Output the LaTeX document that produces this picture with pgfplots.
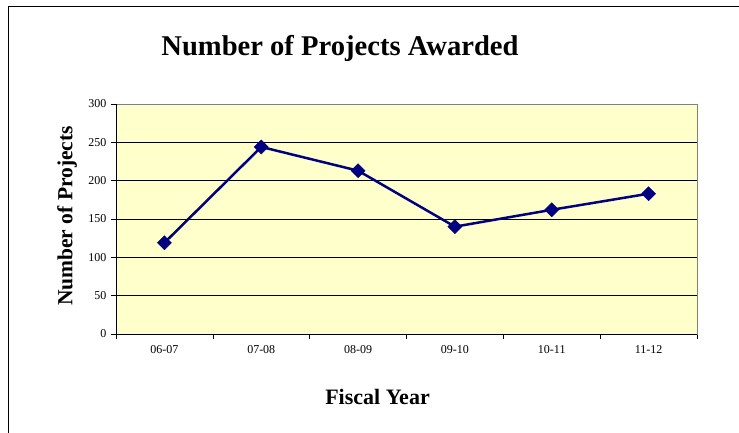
\documentclass[border=0pt]{standalone}
\usepackage{fontspec}
\setmainfont{Liberation Serif}
\usepackage{pgfplots}
\pgfplotsset{compat=1.18}
\definecolor{plotbg}{RGB}{255,255,204}
\definecolor{navyline}{RGB}{0,0,128}
\definecolor{frameGray}{RGB}{128,128,128}

\begin{document}
\begin{tikzpicture}[x=1pt,y=1pt]
\path[use as bounding box] (0pt,0pt) rectangle (739pt,-433pt);
\draw[line width=0.9pt] (8pt,-433pt) -- (8pt,-6pt) -- (739pt,-6pt);
\begin{axis}[
    at={(116pt,-334pt)}, anchor=south west,
    width=581pt, height=230pt, scale only axis,
    xmin=-0.5, xmax=5.5, ymin=0, ymax=300,
    axis background/.style={fill=plotbg},
    axis line style={draw=frameGray, line width=1pt},
    xtick={-0.5,0.5,1.5,2.5,3.5,4.5,5.5},
    xticklabels={},
    extra x ticks={0,1,2,3,4,5},
    extra x tick labels={06-07,07-08,08-09,09-10,10-11,11-12},
    extra x tick style={tick style={draw=none}},
    ytick={0,50,100,150,200,250,300},
    xtick pos=bottom, ytick pos=left,
    tick align=outside,
    major tick length=5pt,
    tick style={black, line width=0.6pt},
    ymajorgrids,
    grid style={black, line width=0.7pt},
    ticklabel style={font=\fontsize{12}{14}\selectfont},
    /pgf/number format/assume math mode=true,
    xticklabel style={yshift=-3pt},
    yticklabel style={xshift=-1pt},
    title={\bfseries Number of Projects Awarded},
    title style={at={(0.3855,1.217)}, anchor=center, font=\fontsize{28.6}{32}\selectfont},
    xlabel={\bfseries Fiscal Year},
    xlabel style={at={(0.4501,-0.274)}, anchor=center, font=\fontsize{22}{24}\selectfont},
    ylabel={\bfseries Number of Projects},
    ylabel style={at={(-0.0843,0.513)}, anchor=center, font=\fontsize{21.5}{24}\selectfont},
    clip=false,
]
\addplot[color=navyline, line width=2.5pt, mark=diamond*,
         mark size=7pt, mark options={fill=navyline, line width=0.5pt, xscale=1.33}]
  coordinates {(0,119)(1,244)(2,213)(3,140)(4,162)(5,183)};
\draw[black, line width=1pt] (rel axis cs:0,1) -- (rel axis cs:0,0) -- (rel axis cs:1,0);
\end{axis}
\end{tikzpicture}
\end{document}
